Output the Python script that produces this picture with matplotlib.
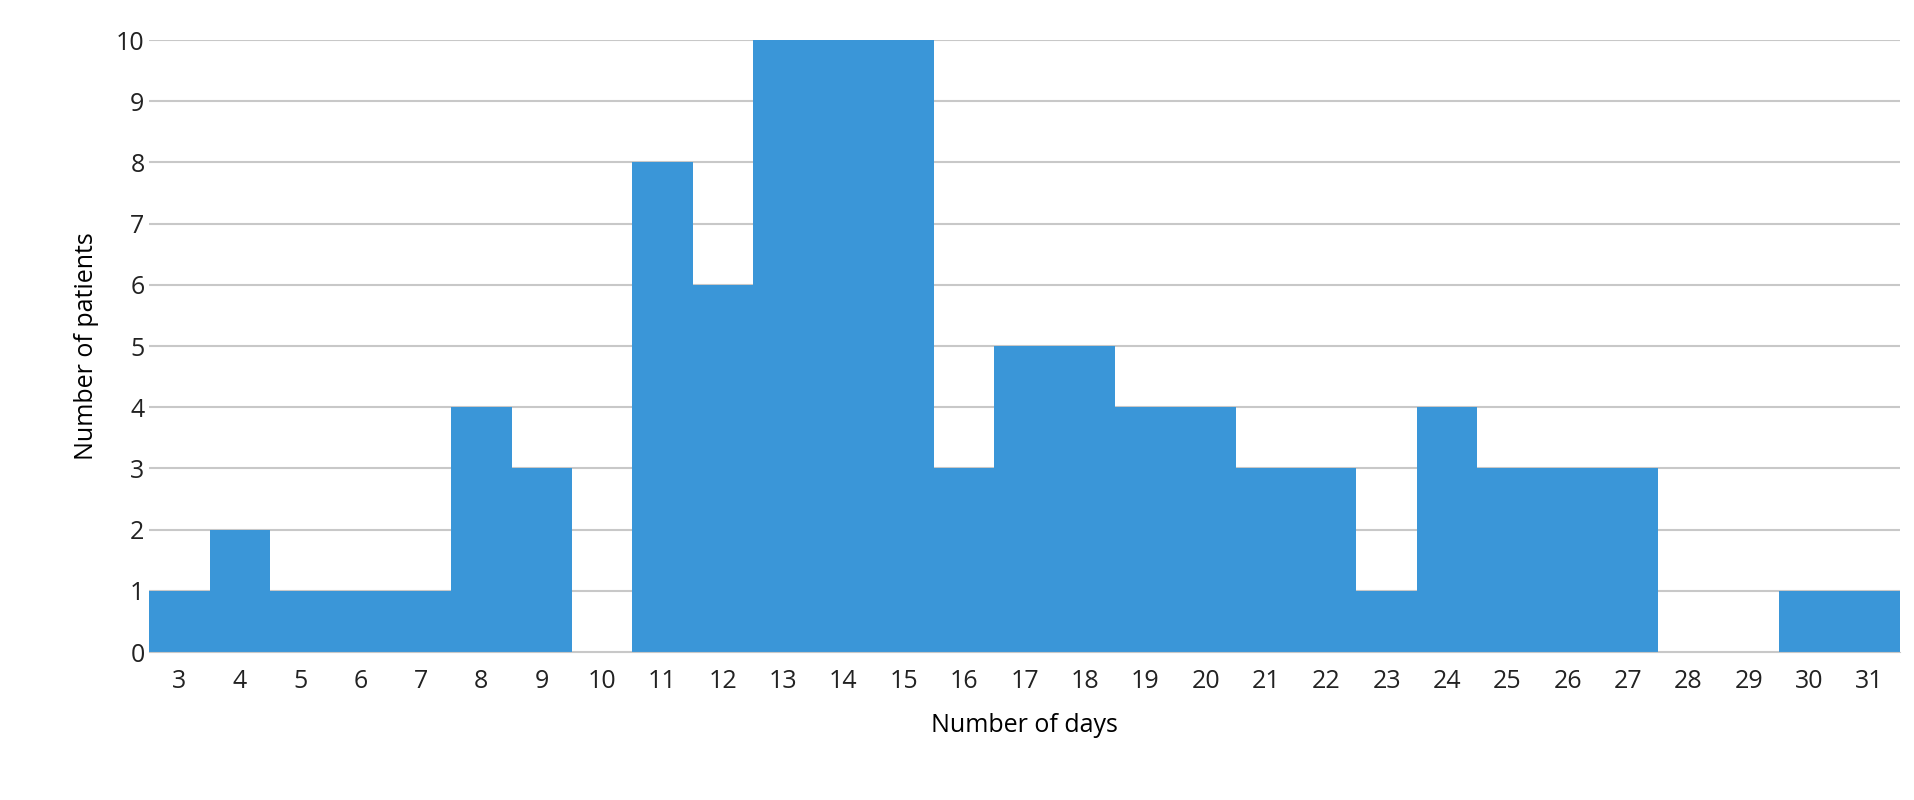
import matplotlib
matplotlib.use("Agg")
import matplotlib.pyplot as plt

days = list(range(3, 32))
patients = [1,2,1,1,1,4,3,0,8,6,10,10,10,3,5,5,4,4,3,3,1,4,3,3,3,0,0,1,1]

plt.rcParams['font.family'] = ['Open Sans', 'DejaVu Sans']
fig = plt.figure(figsize=(19.15, 8.0), dpi=100)
ax = fig.add_axes([0.078, 0.185, 0.914, 0.765])
ax.bar(days, patients, width=1.0, color='#3a96d8', zorder=2)
ax.set_xlim(days[0]-0.5, days[-1]+0.5)
ax.set_ylim(0, 10)
ax.set_yticks(range(0, 11))
ax.set_xticks(days)
ax.grid(axis='y', color='#c8c8c8', linewidth=1.5, zorder=0)
for s in ['top', 'right', 'left']:
    ax.spines[s].set_visible(False)
ax.spines['bottom'].set_color('#c8c8c8')
ax.tick_params(length=0, labelsize=18, colors='#222222')
ax.tick_params(axis='x', pad=12)
ax.set_xlabel('Number of days', fontsize=18, labelpad=14)
ax.set_ylabel('Number of patients', fontsize=18, labelpad=12)
fig.savefig('out.png')
